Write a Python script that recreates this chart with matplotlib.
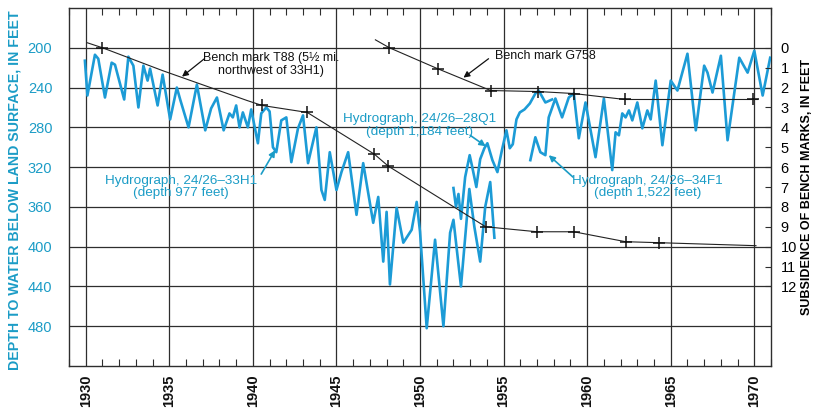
import matplotlib
matplotlib.use('Agg')
import matplotlib.pyplot as plt

plt.rcParams['font.family'] = ['Liberation Sans', 'DejaVu Sans']

LINE_BLUE = '#1c9bd6'
TEXT_BLUE = '#1b9cc6'
GRID = '#2e2e2e'

# hydrograph 24/26-33H1 (depth to water, feet)
h33_year = [1929.95, 1930.1, 1930.55, 1930.75, 1931.15, 1931.55, 1931.75, 1932.3, 1932.55,
            1932.85, 1933.15, 1933.45, 1933.7, 1933.85, 1934.3, 1934.6, 1935.05, 1935.45,
            1935.65, 1936.15, 1936.65, 1937.15, 1937.5, 1937.85, 1938.25, 1938.6, 1938.8,
            1939.0, 1939.2, 1939.4, 1939.7, 1939.9, 1940.3, 1940.5, 1940.8, 1941.0, 1941.2,
            1941.4, 1941.7, 1942.0, 1942.3, 1942.7, 1943.0, 1943.3, 1943.8, 1944.1, 1944.3,
            1944.6, 1945.0, 1945.3, 1945.7, 1946.2, 1946.6, 1947.2, 1947.5, 1947.8, 1948.0,
            1948.2, 1948.6, 1949.0, 1949.5, 1949.8, 1950.0, 1950.4, 1950.9, 1951.4, 1951.8,
            1952.0, 1952.45, 1952.95, 1953.25, 1953.6, 1953.9, 1954.2, 1954.45]
h33_depth = [213, 248, 207, 211, 250, 215, 217, 252, 209,
             218, 260, 218, 233, 221, 258, 227, 272, 240,
             252, 280, 237, 283, 261, 250, 283, 266, 270,
             258, 280, 265, 280, 262, 296, 266, 260, 264, 300,
             305, 273, 270, 315, 281, 268, 316, 280, 343, 353,
             305, 343, 325, 305, 368, 316, 376, 350, 415, 365,
             438, 361, 396, 383, 355, 385, 482, 393, 480, 386,
             373, 440, 342, 380, 415, 360, 335, 391]

# hydrograph 24/26-28Q1
h28_year = [1952.0, 1952.15, 1952.3, 1952.45, 1952.7, 1952.97, 1953.15, 1953.37, 1953.6,
            1953.85, 1954.03, 1954.33, 1954.63, 1954.9, 1955.17, 1955.37, 1955.55, 1955.77,
            1955.97, 1956.25, 1956.57, 1956.9, 1957.1, 1957.5, 1957.9]
h28_depth = [341, 360, 347, 372, 330, 308, 322, 340, 312,
             301, 296, 313, 325, 303, 283, 301, 297, 272,
             265, 262, 256, 246, 243, 255, 252]

# hydrograph 24/26-34F1
h34_year = [1956.6, 1956.9, 1957.2, 1957.5, 1957.7, 1958.1, 1958.5, 1958.9, 1959.2, 1959.5,
            1959.9, 1960.5, 1961.0, 1961.5, 1961.7, 1961.9, 1962.1, 1962.3, 1962.5, 1962.7,
            1963.0, 1963.3, 1963.6, 1963.8, 1964.1, 1964.5, 1965.0, 1965.4, 1966.0, 1966.5,
            1967.0, 1967.2, 1967.5, 1968.0, 1968.4, 1969.1, 1969.6, 1970.0, 1970.5, 1970.95]
h34_depth = [313, 290, 305, 308, 270, 251, 270, 250, 246, 291,
             255, 310, 251, 323, 285, 288, 266, 270, 263, 273,
             255, 281, 263, 272, 233, 298, 233, 243, 206, 283,
             218, 225, 245, 208, 293, 210, 225, 203, 248, 210]

# bench marks (subsidence, feet)
t88_year = [1930.1, 1931.0, 1934.6, 1939.65, 1940.55, 1943.25, 1947.27, 1948.1, 1953.93,
            1957.0, 1959.2, 1962.3, 1964.3, 1970.1]
t88_sub = [-0.25, 0.0, 1.15, 2.65, 2.9, 3.25, 5.35, 5.95, 9.0,
           9.25, 9.25, 9.75, 9.8, 9.95]
t88_survey = [False, True, False, False, True, True, True, True, True,
              True, True, True, True, False]

g758_year = [1947.33, 1948.17, 1951.05, 1954.23, 1957.05, 1959.2, 1962.26, 1969.94, 1970.2]
g758_sub = [-0.4, 0.0, 1.05, 2.15, 2.2, 2.3, 2.6, 2.6, 2.6]
g758_survey = [False, True, True, True, True, True, True, True, False]

year_ticks = list(range(1930, 1971, 5))
depth_ticks = list(range(200, 481, 40))
sub_ticks = list(range(0, 13))

fig = plt.figure(figsize=(8.14, 4.08), dpi=100)
ax = fig.add_axes([0.0848, 0.1029, 0.8624, 0.8775])
ax.set_xlim(1929, 1971)
ax.set_ylim(520, 160)

ax.set_xticks(year_ticks)
ax.set_xticks(range(1929, 1972), minor=True)
ax.set_yticks(depth_ticks)
ax.grid(True, which='major', color=GRID, lw=0.9)
ax.tick_params(axis='x', which='major', length=0, pad=6, labelrotation=90,
               labelsize=10.5, colors='#111111')
ax.tick_params(axis='x', which='minor', direction='in', length=5, top=True,
               color=GRID, width=0.8)
ax.tick_params(axis='y', which='both', length=0, pad=12, labelsize=10.5,
               labelcolor=TEXT_BLUE, left=True, right=False)
for lab in ax.get_xticklabels():
    lab.set_fontweight('bold')
for sp in ax.spines.values():
    sp.set_color(GRID)
    sp.set_linewidth(1.0)

ax.set_ylabel('DEPTH TO WATER BELOW LAND SURFACE, IN FEET', color=TEXT_BLUE,
              fontsize=10.2, fontweight='bold')
ax.yaxis.set_label_coords(-0.068, 0.49)

for yr, dp in [(h33_year, h33_depth), (h28_year, h28_depth), (h34_year, h34_depth)]:
    ax.plot(yr, dp, color=LINE_BLUE, lw=1.9, solid_joinstyle='round', zorder=3)

ax2 = ax.twinx()
ax2.set_ylim(16, -2)
ax2.set_yticks(sub_ticks)
ax2.tick_params(axis='y', direction='in', length=4, pad=7, labelsize=10.5,
                color=GRID, width=0.8)
ax2.set_ylabel('SUBSIDENCE OF BENCH MARKS, IN FEET', fontsize=9, fontweight='bold',
               rotation=90)
ax2.yaxis.set_label_coords(1.043, 0.5)
for sp in ax2.spines.values():
    sp.set_visible(False)

for yr, sb, sv in [(t88_year, t88_sub, t88_survey), (g758_year, g758_sub, g758_survey)]:
    ax2.plot(yr, sb, color='#222222', lw=0.8, zorder=4)
    idx = [i for i, s in enumerate(sv) if s]
    ax2.plot([yr[i] for i in idx], [sb[i] for i in idx], ls='none', marker='+',
             ms=8, mew=1.1, color='#111111', zorder=5)

# annotations
black_arrow = dict(arrowstyle='-|>', color='#111111', lw=0.9, mutation_scale=9,
                   shrinkA=0, shrinkB=0)
blue_arrow = dict(arrowstyle='-|>', color=TEXT_BLUE, lw=1.2, mutation_scale=9,
                  shrinkA=0, shrinkB=0)

ax.text(1941.1, 217, 'Bench mark T88 (5\u00bd mi.\nnorthwest of 33H1)', ha='center',
        va='center', fontsize=9, color='#111111', linespacing=1.1, zorder=6)
ax.annotate('', xy=(1935.76, 229), xytext=(1937.1, 211), arrowprops=black_arrow)

ax.text(1957.5, 208, 'Bench mark G758', ha='center', va='center', fontsize=9,
        color='#111111', zorder=6)
ax.annotate('', xy=(1952.6, 230), xytext=(1954.1, 211), arrowprops=black_arrow)

ax.text(1950.0, 278, 'Hydrograph, 24/26\u201328Q1\n(depth 1,184 feet)', ha='center',
        va='center', fontsize=9.7, color=TEXT_BLUE, linespacing=1.05, zorder=6)
ax.annotate('', xy=(1953.93, 299), xytext=(1953.0, 288), arrowprops=blue_arrow)

ax.text(1935.7, 340, 'Hydrograph, 24/26\u201333H1\n(depth 977 feet)', ha='center',
        va='center', fontsize=9.7, color=TEXT_BLUE, linespacing=1.05, zorder=6)
ax.annotate('', xy=(1941.33, 303), xytext=(1940.5, 327), arrowprops=blue_arrow)

ax.text(1963.6, 340, 'Hydrograph, 24/26\u201334F1\n(depth 1,522 feet)', ha='center',
        va='center', fontsize=9.7, color=TEXT_BLUE, linespacing=1.05, zorder=6)
ax.annotate('', xy=(1957.7, 308), xytext=(1959.15, 330), arrowprops=blue_arrow)

fig.savefig('out.png', dpi=100)
